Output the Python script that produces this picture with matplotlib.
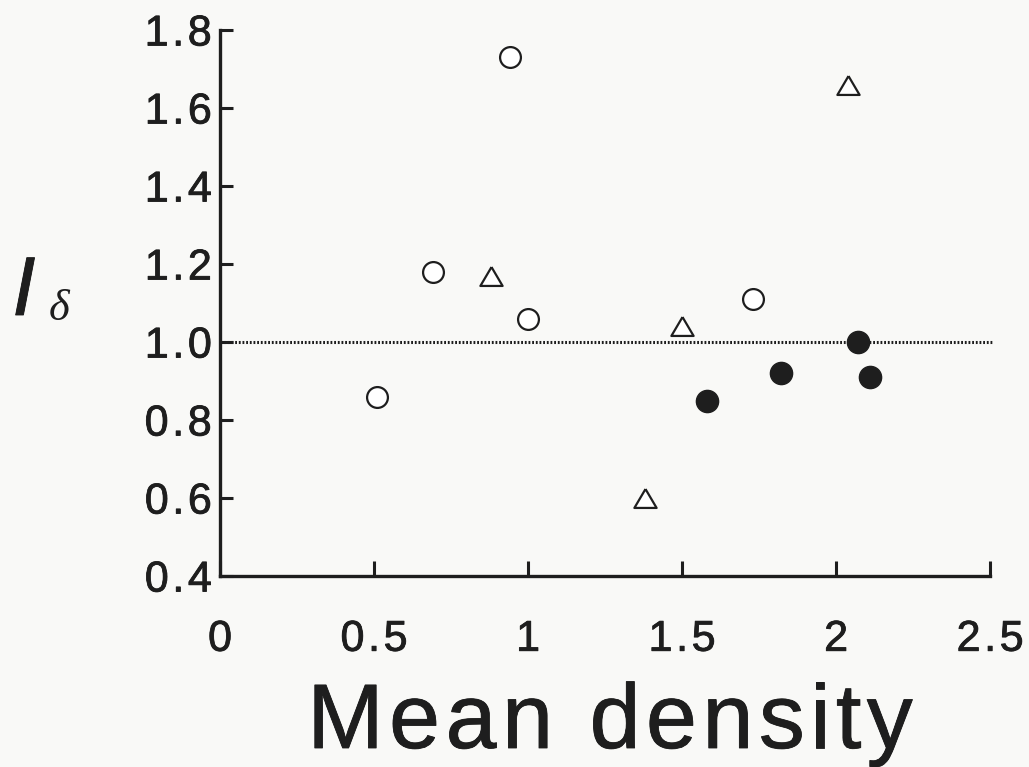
#!/usr/bin/env python3
"""
I_delta against mean density, three groups of points
"""

import matplotlib
matplotlib.use("Agg")
import matplotlib.pyplot as plt
import matplotlib.patheffects as pe
from matplotlib.transforms import IdentityTransform

# open circles
open_x = [0.51, 0.69, 0.94, 1.00, 1.73]
open_y = [0.86, 1.18, 1.73, 1.06, 1.11]

# open triangles
tri_x = [0.88, 1.38, 1.50, 2.04]
tri_y = [1.17, 0.60, 1.04, 1.66]

# filled circles
fill_x = [1.58, 1.82, 2.07, 2.11]
fill_y = [0.85, 0.92, 1.00, 0.91]

x_ticks = [0, 0.5, 1, 1.5, 2, 2.5]
x_labels = ["0", "0.5", "1", "1.5", "2", "2.5"]
y_ticks = [0.4, 0.6, 0.8, 1.0, 1.2, 1.4, 1.6, 1.8]
y_labels = ["0.4", "0.6", "0.8", "1.0", "1.2", "1.4", "1.6", "1.8"]

bg = "#f9f9f7"
ink = "#1e1e1e"
plt.rcParams["font.family"] = ["Liberation Sans", "DejaVu Sans"]

# printed text is a little heavier than the plain font
heavy = [pe.withStroke(linewidth=0.6, foreground=ink)]

# triangle marker, a bit wider than tall like the printed one
tri_marker = [(0, 0.85), (-1, -0.85), (1, -0.85), (0, 0.85)]


def spaced(label):
    # printed labels have slightly loose letter spacing
    return "\u200a".join(label)


def tracked_text(fig, xc, y, s, track, **kw):
    """Draw s centred on pixel xc with extra space between letters"""
    r = fig.canvas.get_renderer()

    def width(txt):
        t = fig.text(0, 0, txt, transform=IdentityTransform(), **kw)
        w = t.get_window_extent(r).width
        t.remove()
        return w

    wx = width("x")
    total = width(s) + track * (len(s) - 1)
    x0 = xc - total / 2
    for i, ch in enumerate(s):
        if ch == " ":
            continue
        off = width(s[:i] + "x") - wx if i > 0 else 0
        fig.text(x0 + off + i * track, y, ch, transform=IdentityTransform(),
                 ha="left", va="baseline", path_effects=heavy, **kw)


def main():
    fig = plt.figure(figsize=(10.29, 7.67), dpi=100, facecolor=bg)
    ax = fig.add_axes([0.2138, 0.249, 0.7484, 0.7119])
    ax.set_facecolor(bg)

    # reference line at 1
    ax.plot([0, 2.51], [1, 1], color=ink, lw=2.2, ls=(0, (0.6, 0.6)),
            clip_on=False, zorder=1)

    ax.plot(open_x, open_y, "o", ms=15, mfc="white", mec=ink, mew=1.6,
            zorder=3)
    ax.plot(tri_x, tri_y, marker=tri_marker, ls="none", ms=16, mfc="white",
            mec=ink, mew=1.6, zorder=3)
    ax.plot(fill_x, fill_y, "o", ms=16, mfc=ink, mec=ink, zorder=3)

    ax.set_xlim(0, 2.5)
    ax.set_ylim(0.4, 1.8)
    ax.set_xticks(x_ticks)
    ax.set_xticklabels([spaced(l) for l in x_labels])
    ax.set_yticks(y_ticks)
    ax.set_yticklabels([spaced(l) for l in y_labels])
    for lab in ax.get_xticklabels() + ax.get_yticklabels():
        lab.set_path_effects(heavy)

    for s in ["top", "right"]:
        ax.spines[s].set_visible(False)
    for s in ["left", "bottom"]:
        ax.spines[s].set_linewidth(2.4)
        ax.spines[s].set_color(ink)

    ax.tick_params(axis="both", direction="in", width=2.2, color=ink,
                   labelsize=31, labelcolor=ink)
    ax.tick_params(axis="x", length=11, pad=31.5)
    ax.tick_params(axis="y", length=9, pad=6)

    # y axis label: I with subscript delta
    fig.text(0.012, 0.5893, "I", fontsize=60, fontstyle="italic",
             color=ink, ha="left", va="baseline", path_effects=heavy)
    fig.text(0.047, 0.5828, "\u03b4", fontsize=32, fontstyle="italic",
             family=["Liberation Serif", "DejaVu Serif"], color=ink,
             ha="left", va="baseline")

    # x axis label, loosely spaced
    tracked_text(fig, 610, 767 - 748, "Mean density", 5.5, fontsize=66,
                 color=ink)

    fig.savefig("out.png", dpi=100, facecolor=bg)


if __name__ == "__main__":
    main()
